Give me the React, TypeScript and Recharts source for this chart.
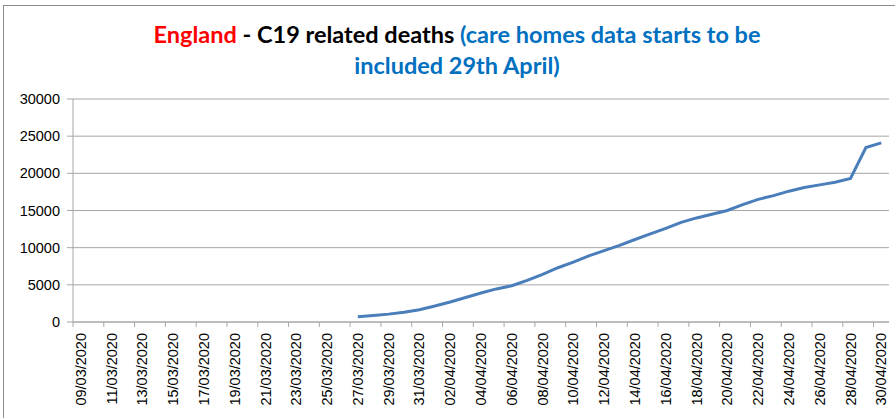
import React from 'react';
import { LineChart, Line, XAxis, YAxis, CartesianGrid } from 'recharts';

const dates = [
  '09/03/2020', '10/03/2020', '11/03/2020', '12/03/2020', '13/03/2020', '14/03/2020', '15/03/2020',
  '16/03/2020', '17/03/2020', '18/03/2020', '19/03/2020', '20/03/2020', '21/03/2020', '22/03/2020',
  '23/03/2020', '24/03/2020', '25/03/2020', '26/03/2020', '27/03/2020', '28/03/2020', '29/03/2020',
  '30/03/2020', '31/03/2020', '01/04/2020', '02/04/2020', '03/04/2020', '04/04/2020', '05/04/2020',
  '06/04/2020', '07/04/2020', '08/04/2020', '09/04/2020', '10/04/2020', '11/04/2020', '12/04/2020',
  '13/04/2020', '14/04/2020', '15/04/2020', '16/04/2020', '17/04/2020', '18/04/2020', '19/04/2020',
  '20/04/2020', '21/04/2020', '22/04/2020', '23/04/2020', '24/04/2020', '25/04/2020', '26/04/2020',
  '27/04/2020', '28/04/2020', '29/04/2020', '30/04/2020',
];

// cumulative deaths, no data before 27/03
const deaths: (number | null)[] = [
  null, null, null, null, null, null, null,
  null, null, null, null, null, null, null,
  null, null, null, null, 700, 880, 1060,
  1300, 1650, 2150, 2700, 3300, 3900, 4450,
  4880, 5600, 6400, 7300, 8050, 8900, 9600,
  10300, 11100, 11850, 12600, 13400, 14000, 14500,
  15000, 15800, 16500, 17000, 17600, 18100, 18450,
  18800, 19300, 23480, 24100,
];

const yTicks = [0, 5000, 10000, 15000, 20000, 25000, 30000];

const data = dates.map((d, i) => ({ date: d, deaths: deaths[i] }));

const HALF = 7.7;
const GREY = '#a6a6a6';
const FONT = '"Liberation Sans", Arial, sans-serif';

const DateTick = (props: any) => {
  const { x, y, payload } = props;
  return (
    <g>
      <line x1={x - HALF} y1={y} x2={x - HALF} y2={y + 5} stroke={GREY} />
      <text
        transform={`translate(${x},${y + 11}) rotate(-90)`}
        textAnchor="end"
        dy="0.35em"
        fontSize={14.5}
        fontFamily={FONT}
        fill="#000"
      >
        {payload.value}
      </text>
    </g>
  );
};

const App: React.FC = () => {
  return (
    <div style={{ position: 'absolute', left: 0, top: 0, width: 895, height: 418, background: '#fff', overflow: 'hidden' }}>
      <div style={{ position: 'absolute', left: 3, top: 5, width: 920, height: 440, border: '1px solid #8c8c8c' }} />
      <div
        style={{
          position: 'absolute',
          left: 0,
          top: 19,
          width: 914,
          textAlign: 'center',
          fontFamily: 'Lato, sans-serif',
          fontWeight: 'bold',
          fontSize: 23.5,
          lineHeight: '31px',
          color: '#0070c0',
        }}
      >
        <span style={{ color: '#ff0000' }}>England</span>
        <span style={{ color: '#000' }}> - C19 related deaths </span>
        (care homes data starts to be
        <br />
        included 29th April)
      </div>
      <div style={{ position: 'absolute', left: 0, top: 0 }}>
        <LineChart width={895} height={418} data={data} margin={{ top: 99, right: 6, left: 0, bottom: 0 }}>
          <CartesianGrid vertical={false} stroke={GREY} />
          <XAxis
            dataKey="date"
            interval={1}
            padding={{ left: HALF, right: HALF }}
            height={96}
            tickSize={0}
            tickMargin={0}
            tickLine={false}
            stroke={GREY}
            tick={<DateTick />}
          />
          <YAxis
            width={73}
            domain={[0, 30000]}
            ticks={yTicks}
            interval={0}
            tickSize={6}
            tickMargin={7}
            stroke={GREY}
            tick={{ fill: '#000', fontSize: 14.5, fontFamily: FONT }}
          />
          <Line
            type="linear"
            dataKey="deaths"
            stroke="#4a7ebb"
            strokeWidth={3}
            dot={false}
            isAnimationActive={false}
          />
        </LineChart>
      </div>
    </div>
  );
};

export default App;
